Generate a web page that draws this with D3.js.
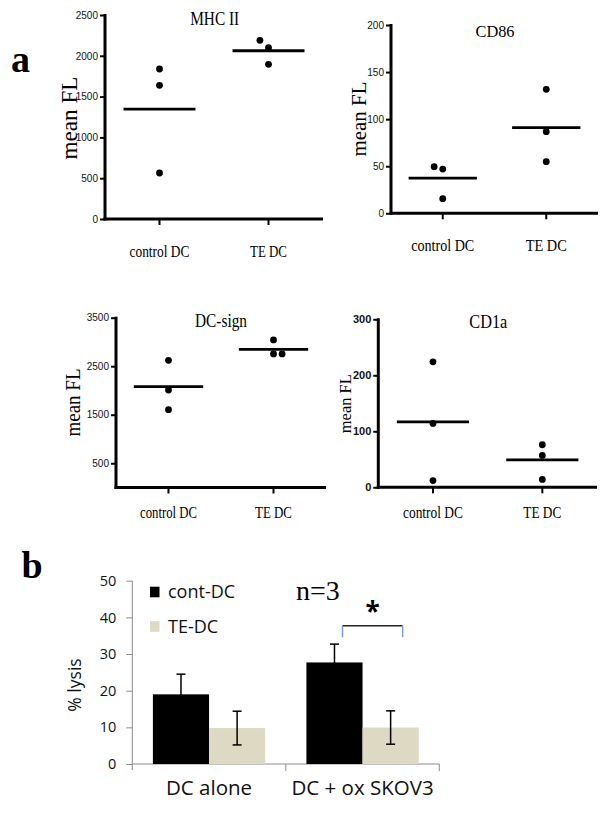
<!DOCTYPE html>
<html><head><meta charset="utf-8">
<script src="https://cdn.jsdelivr.net/npm/d3@7"></script>
<style>html,body{margin:0;padding:0;background:#fff;}svg{display:block;}</style>
</head><body>
<script>
// ---------- DATA ----------
const groups = ["control DC", "TE DC"];
const mhcControl = [1838, 1638, 564];
const mhcTE = [2190, 2100, 1896];
const cd86Control = [49.5, 47, 15.5];
const cd86TE = [131.7, 86.7, 54.8];
const dcsignControl = [2622, 2010, 1604];
const dcsignTE = [3041, 2753, 2753];
const cd1aControl = [224, 114, 12];
const cd1aTE = [76, 57, 14];
// horizontal dot offsets (in dot widths) where points overlap
const mhcJitter = [[0, 0, 0], [-1, 0, 0]];
const cd86Jitter = [[-1, 0, 0], [0, 0, 0]];
const dcsignJitter = [[0, 0, 0], [0, 0, 1]];
const cd1aJitter = [[0, 0, 0], [0, 0, 0]];
const mhcTicks = [0, 500, 1000, 1500, 2000, 2500];
const cd86Ticks = [0, 50, 100, 150, 200];
const dcsignTicks = [500, 1500, 2500, 3500];
const cd1aTicks = [0, 100, 200, 300];

const lysisGroups = ["DC alone", "DC + ox SKOV3"];
const seriesNames = ["cont-DC", "TE-DC"];
const contDC = [19.0, 27.7];
const contDCErr = [5.5, 5.0];
const teDC = [9.8, 9.95];
const teDCErr = [4.6, 4.55];
const lysisTicks = [0, 10, 20, 30, 40, 50];

// ---------- LAYOUT ----------
const W = 610, H = 815;
const svg = d3.select("body").append("svg").attr("width", W).attr("height", H);
const serif = "'Liberation Serif','Times New Roman',serif";
const sans = "'Liberation Sans',Arial,sans-serif";
const open = "'Open Sans','Noto Sans',sans-serif";

const panels = [
  {title: "MHC II", c: mhcControl, t: mhcTE, jit: mhcJitter, ticks: mhcTicks, max: 2500,
   x0: 105, x1: 323, yTop: 15, yBot: 219, bold: false,
   titleX: 214.7, titleY: 25, titleSize: 18, titleLen: 49,
   ylX: 77, ylY: 118, ylSize: 24, ylLen: 83,
   catY: 256.7, catLen: [60, 37]},
  {title: "CD86", c: cd86Control, t: cd86TE, jit: cd86Jitter, ticks: cd86Ticks, max: 200,
   x0: 391, x1: 598, yTop: 25, yBot: 213.3, bold: false,
   titleX: 495, titleY: 36.7, titleSize: 16, titleLen: 39,
   ylX: 366, ylY: 119, ylSize: 21, ylLen: 75,
   catY: 251.3, catLen: [63, 41]},
  {title: "DC-sign", c: dcsignControl, t: dcsignTE, jit: dcsignJitter, ticks: dcsignTicks, max: 3500,
   x0: 116, x1: 326, yTop: 317.7, yBot: 487.5, bold: false,
   titleX: 221, titleY: 327.3, titleSize: 18, titleLen: 52,
   ylX: 80, ylY: 402.5, ylSize: 20, ylLen: 68,
   catY: 518.3, catLen: [57, 37]},
  {title: "CD1a", c: cd1aControl, t: cd1aTE, jit: cd1aJitter, ticks: cd1aTicks, max: 300,
   x0: 378.3, x1: 597, yTop: 319.3, yBot: 487.3, bold: true,
   titleX: 488.3, titleY: 328.3, titleSize: 18, titleLen: 38,
   ylX: 350.7, ylY: 403.7, ylSize: 17, ylLen: 59,
   catY: 518.3, catLen: [60, 38]}
];

panels.forEach(p => {
  const g = svg.append("g");
  const x = d3.scaleBand().domain(groups).range([p.x0, p.x1]);
  const y = d3.scaleLinear().domain([0, p.max]).range([p.yBot, p.yTop]);

  // y axis
  const ya = g.append("g").attr("transform", `translate(${p.x0},0)`)
    .call(d3.axisLeft(y).tickValues(p.ticks).tickSize(5).tickPadding(2).tickFormat(d3.format("d")));
  ya.select(".domain").remove();
  ya.selectAll(".tick line").attr("stroke", "#000").attr("stroke-width", 2);
  ya.selectAll(".tick text").attr("font-family", sans).attr("font-size", p.bold ? 11 : 10)
    .attr("font-weight", p.bold ? "bold" : "normal").attr("fill", "#111");
  g.append("line").attr("x1", p.x0).attr("x2", p.x0).attr("y1", p.yTop - 1).attr("y2", p.yBot + 1.5)
    .attr("stroke", "#000").attr("stroke-width", 3);

  // x axis
  const xa = g.append("g").attr("transform", `translate(0,${p.yBot})`)
    .call(d3.axisBottom(x).tickSize(6).tickFormat(""));
  xa.select(".domain").remove();
  xa.selectAll(".tick line").attr("stroke", "#000").attr("stroke-width", 2);
  g.append("line").attr("x1", p.x0 - 1.5).attr("x2", p.x1).attr("y1", p.yBot).attr("y2", p.yBot)
    .attr("stroke", "#000").attr("stroke-width", 3);

  // category labels
  groups.forEach((gr, i) => {
    g.append("text").attr("x", x(gr) + x.bandwidth() / 2).attr("y", p.catY)
      .attr("text-anchor", "middle").attr("font-family", serif).attr("font-size", 16)
      .attr("textLength", p.catLen[i]).attr("lengthAdjust", "spacingAndGlyphs")
      .text(gr);
  });

  // points and means
  [p.c, p.t].forEach((vals, gi) => {
    const cx = x(groups[gi]) + x.bandwidth() / 2;
    vals.forEach((v, k) => {
      g.append("circle").attr("cx", cx + p.jit[gi][k] * 8.6).attr("cy", y(v)).attr("r", 3.4).attr("fill", "#000");
    });
    const m = d3.mean(vals);
    const hw = x.bandwidth() * 0.33;
    g.append("line").attr("x1", cx - hw).attr("x2", cx + hw).attr("y1", y(m)).attr("y2", y(m))
      .attr("stroke", "#000").attr("stroke-width", 2.8);
  });

  // title
  g.append("text").attr("x", p.titleX).attr("y", p.titleY).attr("text-anchor", "middle")
    .attr("font-family", serif).attr("font-size", p.titleSize)
    .attr("textLength", p.titleLen).attr("lengthAdjust", "spacingAndGlyphs").text(p.title);
  // y label
  g.append("text").attr("transform", `translate(${p.ylX},${p.ylY}) rotate(-90)`).attr("text-anchor", "middle")
    .attr("font-family", serif).attr("font-size", p.ylSize)
    .attr("textLength", p.ylLen).attr("lengthAdjust", "spacingAndGlyphs").text("mean FL");
});

// panel letters
svg.append("text").attr("x", 11).attr("y", 71.5).attr("font-family", serif).attr("font-weight", "bold")
  .attr("font-size", 38).text("a");
svg.append("text").attr("x", 21.5).attr("y", 578).attr("font-family", serif).attr("font-weight", "bold")
  .attr("font-size", 38).text("b");

// ---------- BAR CHART ----------
(function () {
  const x0 = 132.3, x1 = 439.3, yTop = 580.7, yBot = 764;
  const g = svg.append("g");
  const x = d3.scaleBand().domain(lysisGroups).range([x0, x1]);
  const xs = d3.scaleBand().domain(seriesNames).range([0, x.bandwidth()]).paddingOuter(0.367).paddingInner(0);
  const y = d3.scaleLinear().domain([0, 50]).range([yBot, yTop]);
  const axisColor = "#8c8c8c";

  const ya = g.append("g").attr("transform", `translate(${x0},0)`)
    .call(d3.axisLeft(y).tickValues(lysisTicks).tickSize(6).tickPadding(10));
  ya.select(".domain").attr("stroke", axisColor).attr("d", `M-0,${yTop}V${yBot + 6}`);
  ya.selectAll(".tick line").attr("stroke", axisColor);
  ya.selectAll(".tick text").attr("font-family", open).attr("font-size", 14.5).attr("fill", "#111");

  const xa = g.append("g").attr("transform", `translate(0,${yBot})`);
  xa.append("line").attr("x1", x0).attr("x2", x1).attr("y1", 0).attr("y2", 0).attr("stroke", axisColor);
  [x0 + x.bandwidth(), x1].forEach(v => {
    xa.append("line").attr("x1", v).attr("x2", v).attr("y1", 0).attr("y2", 7).attr("stroke", axisColor);
  });

  const colors = ["#000000", "#ddd9c3"];
  const vals = [contDC, teDC], errs = [contDCErr, teDCErr];
  lysisGroups.forEach((gr, i) => {
    seriesNames.forEach((s, j) => {
      const bx = x(gr) + xs(s);
      const v = vals[j][i], e = errs[j][i];
      g.append("rect").attr("x", bx).attr("y", y(v)).attr("width", xs.bandwidth()).attr("height", yBot - y(v))
        .attr("fill", colors[j]);
      const cx = bx + xs.bandwidth() / 2;
      g.append("line").attr("x1", cx).attr("x2", cx).attr("y1", y(v + e)).attr("y2", y(v - e))
        .attr("stroke", "#000").attr("stroke-width", 1.5);
      [v + e, v - e].forEach(w => {
        g.append("line").attr("x1", cx - 4.5).attr("x2", cx + 4.5).attr("y1", y(w)).attr("y2", y(w))
          .attr("stroke", "#000").attr("stroke-width", 1.5);
      });
    });
    g.append("text").attr("x", x(gr) + x.bandwidth() / 2).attr("y", 795).attr("text-anchor", "middle")
      .attr("font-family", open).attr("font-size", 20.5).attr("fill", "#111").text(gr);
  });

  // y label
  g.append("text").attr("transform", "translate(81,685) rotate(-90)").attr("text-anchor", "middle")
    .attr("font-family", open).attr("font-size", 17.5).attr("fill", "#111").text("% lysis");

  // legend
  seriesNames.forEach((s, j) => {
    const ly = 592 + j * 34.5;
    g.append("rect").attr("x", 150).attr("y", ly - 5.3).attr("width", 9.5).attr("height", 10.6).attr("fill", colors[j]);
    g.append("text").attr("x", 168).attr("y", ly).attr("dy", "0.35em").attr("font-family", open)
      .attr("font-size", 18).attr("fill", "#111").text(s);
  });

  // n=3
  g.append("text").attr("x", 296).attr("y", 600).attr("font-family", serif).attr("font-size", 28).text("n=3");

  // significance bracket
  const bx1 = x(lysisGroups[1]) + xs(seriesNames[0]) + xs.bandwidth() / 2 + 8;
  const bx2 = x(lysisGroups[1]) + xs(seriesNames[1]) + xs.bandwidth() / 2 + 12;
  const by = 625.7;
  g.append("line").attr("x1", bx1).attr("x2", bx2).attr("y1", by).attr("y2", by).attr("stroke", "#222").attr("stroke-width", 1.5);
  [bx1, bx2].forEach(v => g.append("line").attr("x1", v).attr("x2", v).attr("y1", by).attr("y2", by + 11.5)
    .attr("stroke", "#7b9bd0").attr("stroke-width", 1.5));
  g.append("text").attr("x", (bx1 + bx2) / 2).attr("y", 621).attr("text-anchor", "middle")
    .attr("font-family", open).attr("font-weight", "bold").attr("font-size", 26).text("*");
})();
</script>
</body></html>
